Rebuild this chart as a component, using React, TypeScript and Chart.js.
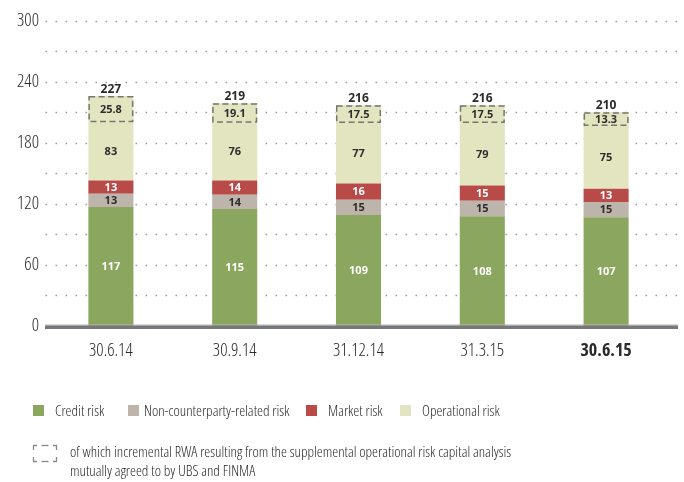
import React, { useEffect, useRef } from "react";
import { Chart, registerables } from "chart.js";

Chart.register(...registerables);

const categories = ["30.6.14", "30.9.14", "31.12.14", "31.3.15", "30.6.15"];
const creditRisk = [117, 115, 109, 108, 107];
const nonCounterpartyRisk = [13, 14, 15, 15, 15];
const marketRisk = [13, 14, 16, 15, 13];
const operationalRisk = [83, 76, 77, 79, 75];
const incrementalRwa = [25.8, 19.1, 17.5, 17.5, 13.3];
const totals = [227, 219, 216, 216, 210];
const yMin = 0;
const yMax = 300;
const yGridStep = 30;
const yLabelStep = 60;

const legendItems = [
  { label: "Credit risk", color: "#8ba65e" },
  { label: "Non-counterparty-related risk", color: "#bdb4ab" },
  { label: "Market risk", color: "#b84a48" },
  { label: "Operational risk", color: "#e3e5c1" },
];
const dashedLegendLines = [
  "of which incremental RWA resulting from the supplemental operational risk capital analysis",
  "mutually agreed to by UBS and FINMA",
];

const FAMILY = "'Open Sans', 'Noto Sans', sans-serif";
const LABEL_FONT = "'Open Sans', 'Liberation Sans', sans-serif";
const TEXT = "#2a2a2a";

const overlayPlugin = {
  id: "overlay",
  beforeDatasetsDraw(chart: any) {
    const { ctx } = chart;
    const y = chart.scales.y;
    ctx.save();
    ctx.strokeStyle = "#9a9a9a";
    ctx.lineWidth = 1.6;
    ctx.setLineDash([1.6, 8.4]);
    y.ticks.forEach((t: any) => {
      if (t.value === 0) return;
      const py = Math.round(y.getPixelForValue(t.value)) + 0.5;
      ctx.beginPath();
      ctx.moveTo(45.5, py);
      ctx.lineTo(678, py);
      ctx.stroke();
    });
    ctx.restore();
  },
  afterDatasetsDraw(chart: any) {
    const { ctx } = chart;
    const y = chart.scales.y;
    ctx.save();
    const incMeta = chart.getDatasetMeta(4);
    ctx.strokeStyle = "#76766e";
    ctx.lineWidth = 1.5;
    ctx.setLineDash([6, 3.5]);
    incMeta.data.forEach((el: any) => {
      const p = el.getProps(["x", "y", "base", "width"], true);
      const l = p.x - p.width / 2 + 0.75;
      const r = p.x + p.width / 2 - 0.75;
      ctx.strokeRect(l, p.y + 0.75, r - l, p.base - p.y - 1.5);
    });
    ctx.setLineDash([]);
    const y0 = y.getPixelForValue(0);
    ctx.fillStyle = "#b5b6b8";
    ctx.fillRect(45, y0 - 1.5, 633, 1);
    ctx.fillStyle = "#76777a";
    ctx.fillRect(45, y0 - 0.5, 633, 3.5);
    ctx.textAlign = "center";
    ctx.textBaseline = "middle";
    ctx.font = `bold 11px ${LABEL_FONT}`;
    chart.data.datasets.forEach((ds: any, di: number) => {
      const meta = chart.getDatasetMeta(di);
      meta.data.forEach((el: any, i: number) => {
        const p = el.getProps(["x", "y", "base"], true);
        ctx.fillStyle = ds.labelColor;
        ctx.fillText(ds.displayValues[i], p.x, (p.y + p.base) / 2 + 0.5);
      });
    });
    ctx.font = `bold 12px ${LABEL_FONT}`;
    ctx.fillStyle = "#2a2a2a";
    incMeta.data.forEach((el: any, i: number) => {
      const p = el.getProps(["x", "y"], true);
      ctx.fillText(String(totals[i]), p.x, p.y - 7);
    });
    ctx.restore();
  },
};

function ChartCanvas() {
  const ref = useRef<HTMLCanvasElement | null>(null);
  useEffect(() => {
    if (!ref.current) return;
    const common = { stack: "rwa", barPercentage: 0.364, categoryPercentage: 1, borderWidth: 0 };
    const chart = new Chart(ref.current, {
      type: "bar",
      data: {
        labels: categories,
        datasets: [
          {
            ...common,
            label: "Credit risk",
            data: creditRisk,
            backgroundColor: legendItems[0].color,
            labelColor: "#ffffff",
            displayValues: creditRisk.map(String),
          } as any,
          {
            ...common,
            label: "Non-counterparty-related risk",
            data: nonCounterpartyRisk,
            backgroundColor: legendItems[1].color,
            labelColor: "#2d2d2d",
            displayValues: nonCounterpartyRisk.map(String),
          } as any,
          {
            ...common,
            label: "Market risk",
            data: marketRisk,
            backgroundColor: legendItems[2].color,
            labelColor: "#ffffff",
            displayValues: marketRisk.map(String),
          } as any,
          {
            ...common,
            label: "Operational risk",
            data: operationalRisk.map((v, i) => v - incrementalRwa[i]),
            backgroundColor: legendItems[3].color,
            labelColor: "#2d2d2d",
            displayValues: operationalRisk.map(String),
          } as any,
          {
            ...common,
            label: "of which incremental RWA",
            data: incrementalRwa,
            backgroundColor: legendItems[3].color,
            labelColor: "#2d2d2d",
            displayValues: incrementalRwa.map((v) => v.toFixed(1)),
          } as any,
        ],
      },
      options: {
        animation: false,
        responsive: false,
        events: [],
        layout: { padding: { top: 20, right: 16, bottom: 0, left: 0 } },
        plugins: { legend: { display: false }, tooltip: { enabled: false } },
        scales: {
          x: {
            stacked: true,
            grid: { display: false, drawTicks: false },
            border: { display: false },
            ticks: {
              color: TEXT,
              padding: 14,
              font: (c: any) => ({
                family: FAMILY,
                size: 18,
                weight: c.index === categories.length - 1 ? "bold semi-condensed" : "300 semi-condensed",
              }),
            },
            afterFit: (s: any) => {
              s.height = 156;
            },
          },
          y: {
            stacked: true,
            min: yMin,
            max: yMax,
            grid: { display: false, drawTicks: false },
            border: { display: false },
            ticks: {
              stepSize: yGridStep,
              color: TEXT,
              padding: 10,
              font: { family: FAMILY, size: 18, weight: "300 semi-condensed" },
              callback: (v: any) => (Number(v) % yLabelStep === 0 ? String(v) : ""),
            },
            afterFit: (s: any) => {
              s.width = 49;
            },
          },
        },
      } as any,
      plugins: [overlayPlugin],
    });
    return () => chart.destroy();
  }, []);
  return <canvas ref={ref} width={684} height={482} style={{ position: "absolute", left: 0, top: 0 }} />;
}

function DashedIcon() {
  const s = "#8a8a84";
  return (
    <svg width={26} height={19} style={{ position: "absolute", left: 32, top: 444 }}>
      <g stroke={s} strokeWidth={1.3} fill="none">
        <path d="M1.5 6 V1.5 H5" />
        <path d="M9.5 1.5 H16.5" />
        <path d="M21 1.5 H24.5 V6" />
        <path d="M1.5 13 V17.5 H5" />
        <path d="M9.5 17.5 H16.5" />
        <path d="M21 17.5 H24.5 V13" />
      </g>
    </svg>
  );
}

export default function App() {
  const squareLeft = [33, 128, 306, 400];
  const textLeft = [55, 144, 328, 422];
  const textStyle: React.CSSProperties = {
    position: "absolute",
    fontFamily: FAMILY,
    fontStretch: "87.5%",
    fontWeight: 300,
    fontSize: 15,
    color: TEXT,
    lineHeight: "18px",
    whiteSpace: "nowrap",
  };
  return (
    <div style={{ position: "fixed", left: 0, top: 0, width: 684, height: 482, background: "#fff", overflow: "hidden" }}>
      <ChartCanvas />
      {legendItems.map((it, i) => (
        <React.Fragment key={it.label}>
          <div
            style={{
              position: "absolute",
              left: squareLeft[i],
              top: 405,
              width: 11,
              height: 11,
              background: it.color,
            }}
          />
          <div style={{ ...textStyle, left: textLeft[i], top: 401 }}>{it.label}</div>
        </React.Fragment>
      ))}
      <DashedIcon />
      {dashedLegendLines.map((line, i) => (
        <div key={i} style={{ ...textStyle, left: 70, top: 442 + i * 18.5 }}>
          {line}
        </div>
      ))}
    </div>
  );
}
